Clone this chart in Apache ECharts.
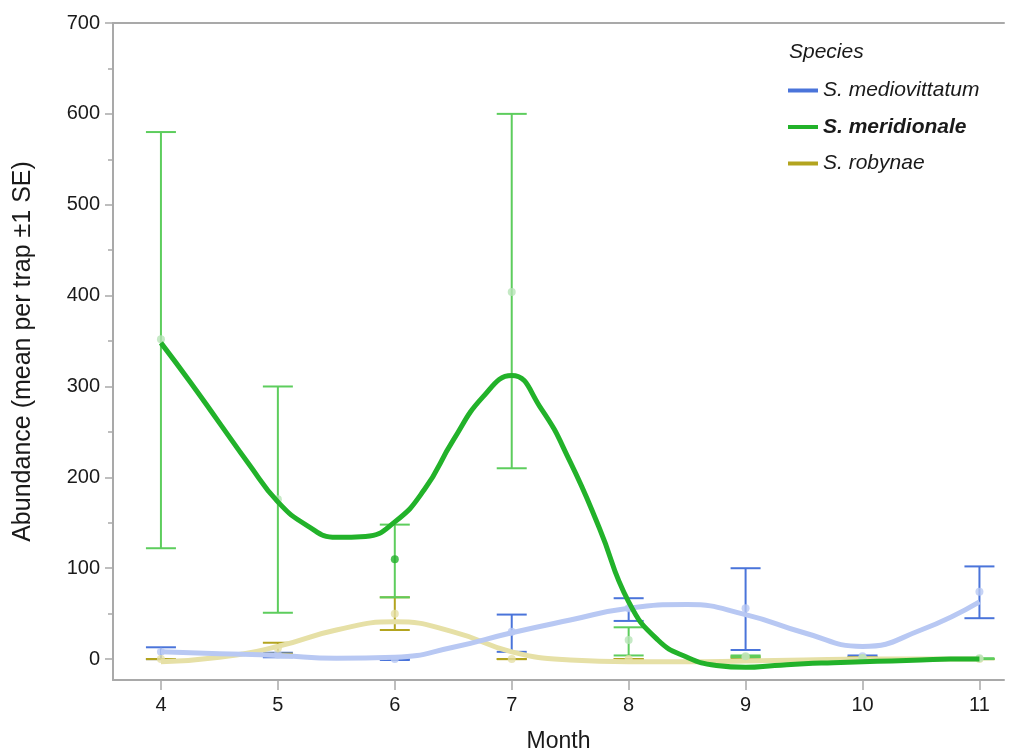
<!DOCTYPE html>
<html>
<head>
<meta charset="utf-8">
<title>Abundance by month</title>
<script src="https://cdn.jsdelivr.net/npm/echarts@6/dist/echarts.min.js"></script>
<style>
  html, body { margin: 0; padding: 0; background: #fff; }
  #chart { width: 1013px; height: 755px; }
</style>
</head>
<body>
<div id="chart"></div>
<script>
// months sampled
const months = [4, 5, 6, 7, 8, 9, 10, 11];

const xTicks = [4, 5, 6, 7, 8, 9, 10, 11];
const yTicks = [0, 100, 200, 300, 400, 500, 600, 700];
const yMinorTicks = [50, 150, 250, 350, 450, 550, 650];

const speciesNames = ['S. mediovittatum', 'S. meridionale', 'S. robynae'];

// means and +-1 SE bounds
const mediovittatumMean = [8, 5, 0, 30, 56, 56, 3, 74];
const mediovittatumLow = [0, 2, -1, 8, 42, 10, 2, 45];
const mediovittatumHigh = [13, 7, 0, 49, 67, 100, 4, 102];

const meridionaleMean = [352, 176, 110, 404, 21, 3, 1, 1];
const meridionaleLow = [122, 51, 68, 210, 4, 2, 0, 0];
const meridionaleHigh = [580, 300, 148, 600, 35, 4, 1, 1];

const robynaeMean = [0, 12, 50, 0, 0, 2, 1, 0];
const robynaeLow = [0, 6, 32, 0, 0, 1, 0, 0];
const robynaeHigh = [0, 18, 68, 0, 0, 3, 2, 0];

// smoother fits
const mediovittatumFit = [[4, 8], [4.5, 6], [5, 4], [5.5, 1], [6, 2], [6.5, 13], [7, 29], [7.5, 43],
  [8, 56], [8.5, 60], [9, 49], [9.5, 29], [10, 14], [10.5, 32], [11, 63]];
const meridionaleFit = [[4, 348], [4.25, 305], [4.5, 260], [4.75, 215], [5, 173], [5.25, 147],
  [5.5, 134], [5.75, 135], [6, 151], [6.25, 186], [6.5, 241], [6.75, 288], [7, 312], [7.25, 276],
  [7.5, 217], [7.75, 144], [8, 63], [8.25, 21], [8.5, 2], [8.75, -7], [9, -9], [9.25, -7],
  [9.5, -5], [9.75, -4], [10, -3], [10.25, -2], [10.5, -1], [10.75, 0], [11, 0]];
const robynaeFit = [[4, -3], [4.5, 2], [5, 14], [5.5, 32], [6, 41], [6.5, 30], [7, 8], [7.5, -1],
  [8, -3], [8.5, -3], [9, -2], [9.5, -1], [10, 0], [10.5, 0], [11, 0]];

const FONT = 'Liberation Sans, Arial, Helvetica, sans-serif';
const AXIS_GRAY = '#a9a9a9';
const BLUE = '#4a74da';
const BLUE_PALE = '#b8c8f3';
const GREEN = '#22b22a';
const GREEN_BAR = '#5dcd5d';
const GREEN_PALE = '#b7e4b7';
const OLIVE = '#b3a41f';
const OLIVE_PALE = '#e6e0a6';

const chart = echarts.init(document.getElementById('chart'));

function errorBars(name, low, high, color) {
    return {
        name: name,
        type: 'custom',
        silent: true,
        z: 2,
        data: months.map((m, i) => [m, low[i], high[i]]),
        encode: { x: 0, y: [1, 2] },
        renderItem: function (params, api) {
            const x = api.value(0);
            const lo = api.coord([x, api.value(1)]);
            const hi = api.coord([x, api.value(2)]);
            const hw = 15;
            const style = { stroke: color, lineWidth: 2 };
            return {
                type: 'group',
                children: [
                    { type: 'line', shape: { x1: lo[0], y1: lo[1], x2: hi[0], y2: hi[1] }, style: style },
                    { type: 'line', shape: { x1: lo[0] - hw, y1: lo[1], x2: lo[0] + hw, y2: lo[1] }, style: style },
                    { type: 'line', shape: { x1: hi[0] - hw, y1: hi[1], x2: hi[0] + hw, y2: hi[1] }, style: style }
                ]
            };
        }
    };
}

function means(name, values, color) {
    return {
        name: name,
        type: 'scatter',
        silent: true,
        z: 5,
        symbolSize: 8,
        itemStyle: { color: color },
        data: values.map((v, i) => [months[i], v])
    };
}

function fit(name, points, color, width, z) {
    return {
        name: name,
        type: 'line',
        silent: true,
        z: z,
        smooth: 0.5,
        showSymbol: false,
        lineStyle: { color: color, width: width },
        itemStyle: { color: color },
        data: points
    };
}

// the month 6 mean of S. meridionale is drawn dark in the original
const meridionaleMeans = means('meridionale mean', meridionaleMean, GREEN_PALE);
meridionaleMeans.data[2] = { value: meridionaleMeans.data[2], itemStyle: { color: GREEN } };

const option = {
    animation: false,
    textStyle: { fontFamily: FONT },
    grid: { left: 113, right: 9, top: 23, bottom: 75, containLabel: false, outerBoundsMode: 'none' },
    title: {
        text: 'Species',
        left: 789,
        top: 42,
        padding: 0,
        textStyle: { fontFamily: FONT, fontSize: 21, fontStyle: 'italic', fontWeight: 'normal', color: '#1a1a1a' }
    },
    legend: {
        orient: 'vertical',
        left: 788,
        top: 80,
        padding: 0,
        icon: 'rect',
        itemWidth: 30,
        itemHeight: 4,
        itemGap: 15.5,
        selectedMode: false,
        textStyle: { fontFamily: FONT, fontSize: 21, lineHeight: 21, fontStyle: 'italic', color: '#1a1a1a' },
        data: [
            { name: speciesNames[0], itemStyle: { color: BLUE } },
            { name: speciesNames[1], itemStyle: { color: GREEN }, textStyle: { fontWeight: 'bold' } },
            { name: speciesNames[2], itemStyle: { color: OLIVE } }
        ]
    },
    xAxis: [
        {
            type: 'value',
            min: 3.59,
            max: 11.21,
            name: 'Month',
            nameLocation: 'middle',
            nameGap: 50,
            nameTextStyle: { fontFamily: FONT, fontSize: 23, color: '#1a1a1a' },
            axisLine: { show: true, onZero: false, lineStyle: { color: AXIS_GRAY, width: 2 } },
            axisTick: { show: true, customValues: xTicks, length: 10, lineStyle: { color: AXIS_GRAY, width: 1.5 } },
            axisLabel: { customValues: xTicks, margin: 15, fontSize: 20, color: '#1a1a1a' },
            splitLine: { show: false }
        },
        {
            type: 'value',
            position: 'top',
            min: 3.59,
            max: 11.21,
            axisLine: { show: true, onZero: false, lineStyle: { color: AXIS_GRAY, width: 2 } },
            axisTick: { show: false },
            axisLabel: { show: false },
            splitLine: { show: false }
        }
    ],
    yAxis: [
        {
            type: 'value',
            min: -23,
            max: 700,
            name: 'Abundance (mean per trap ±1 SE)',
            nameLocation: 'middle',
            nameGap: 77,
            nameTextStyle: { fontFamily: FONT, fontSize: 25, color: '#1a1a1a' },
            axisLine: { show: true, onZero: false, lineStyle: { color: AXIS_GRAY, width: 2 } },
            axisTick: { show: true, customValues: yTicks, length: 8, lineStyle: { color: AXIS_GRAY, width: 1.5 } },
            axisLabel: { customValues: yTicks, margin: 13, fontSize: 20, color: '#1a1a1a' },
            splitLine: { show: false }
        },
        {
            type: 'value',
            position: 'left',
            min: -23,
            max: 700,
            axisLine: { show: false, onZero: false },
            axisTick: { show: true, customValues: yMinorTicks, length: 5, lineStyle: { color: AXIS_GRAY, width: 1.5 } },
            axisLabel: { show: false },
            splitLine: { show: false }
        }
    ],
    series: [
        errorBars('mediovittatum SE', mediovittatumLow, mediovittatumHigh, BLUE),
        errorBars('robynae SE', robynaeLow, robynaeHigh, OLIVE),
        errorBars('meridionale SE', meridionaleLow, meridionaleHigh, GREEN_BAR),
        fit(speciesNames[2], robynaeFit, OLIVE_PALE, 5, 4),
        fit(speciesNames[0], mediovittatumFit, BLUE_PALE, 5, 4),
        fit(speciesNames[1], meridionaleFit, GREEN, 5, 6),
        means('mediovittatum mean', mediovittatumMean, BLUE_PALE),
        means('robynae mean', robynaeMean, OLIVE_PALE),
        meridionaleMeans
    ]
};

chart.setOption(option);
window.addEventListener('resize', () => chart.resize());
</script>
</body>
</html>
